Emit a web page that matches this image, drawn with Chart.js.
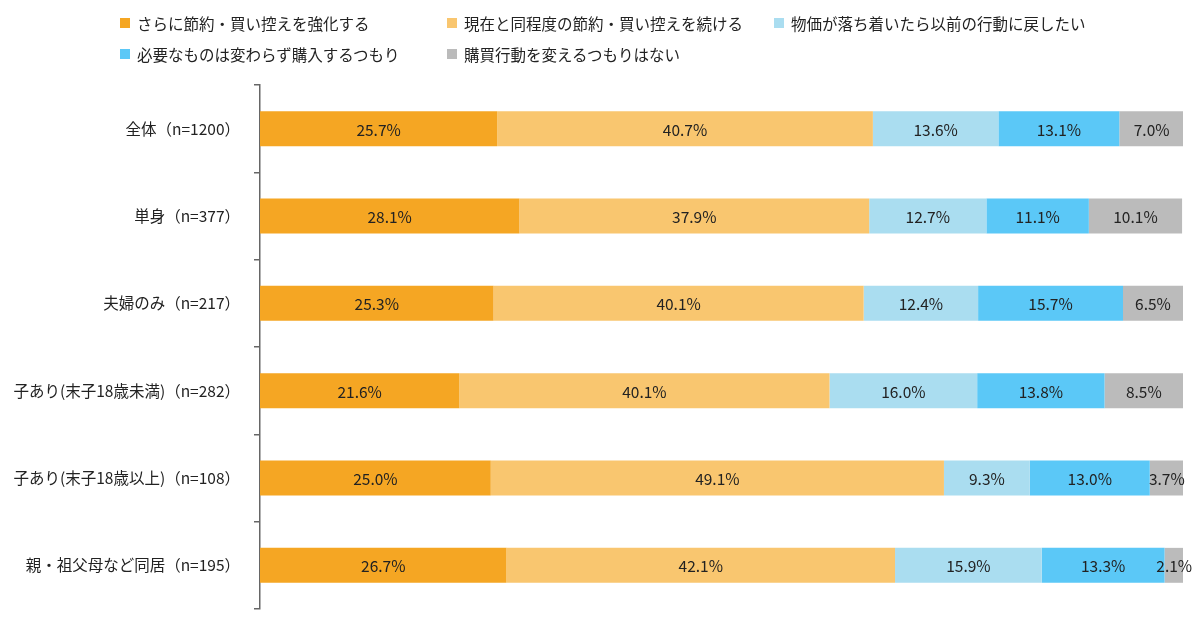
<!DOCTYPE html>
<html>
<head>
<meta charset="utf-8">
<script src="https://cdn.jsdelivr.net/npm/chart.js@4"></script>
<style>
    body { margin: 0; background: #fff; font-family: "Noto Sans CJK JP", "Noto Sans", sans-serif; }
    #wrap { position: relative; width: 1200px; height: 626px; }
    #legend { position: absolute; left: 120px; top: 12px; display: grid; grid-template-columns: 327px 327px auto; row-gap: 9px; font-size: 15.5px; color: #222; }
    .item { display: flex; align-items: center; height: 22px; white-space: nowrap; }
    .box { width: 10px; height: 10px; margin-right: 7px; flex: none; }
    canvas { display: block; }
</style>
</head>
<body>
<div id="wrap">
    <div id="legend"></div>
    <canvas id="myChart" width="1200" height="626"></canvas>
</div>
<script>
const categorias = ['全体（n=1200）', '単身（n=377）', '夫婦のみ（n=217）', '子あり(末子18歳未満)（n=282）', '子あり(末子18歳以上)（n=108）', '親・祖父母など同居（n=195）'];
const series = ['さらに節約・買い控えを強化する', '現在と同程度の節約・買い控えを続ける', '物価が落ち着いたら以前の行動に戻したい', '必要なものは変わらず購入するつもり', '購買行動を変えるつもりはない'];
const reforzar = [25.7, 28.1, 25.3, 21.6, 25.0, 26.7];
const continuar = [40.7, 37.9, 40.1, 40.1, 49.1, 42.1];
const volver = [13.6, 12.7, 12.4, 16.0, 9.3, 15.9];
const comprar = [13.1, 11.1, 15.7, 13.8, 13.0, 13.3];
const sinCambio = [7.0, 10.1, 6.5, 8.5, 3.7, 2.1];
const colores = ['#F5A623', '#F9C66F', '#AADDF0', '#5BC8F7', '#BBBBBB'];

const valores = [reforzar, continuar, volver, comprar, sinCambio];

// Leyenda en HTML (columnas fijas como en el original)
const legend = document.getElementById('legend');
series.forEach((nombre, i) => {
    const item = document.createElement('div');
    item.className = 'item';
    item.innerHTML = '<span class="box" style="background:' + colores[i] + '"></span>' + nombre;
    legend.appendChild(item);
});

// Etiquetas de porcentaje dentro de cada segmento
const etiquetas = {
    id: 'etiquetas',
    afterDatasetsDraw(chart) {
        const ctx = chart.ctx;
        ctx.save();
        ctx.font = '15.5px "Noto Sans CJK JP", "Noto Sans", sans-serif';
        ctx.fillStyle = '#222';
        ctx.textAlign = 'center';
        ctx.textBaseline = 'middle';
        chart.data.datasets.forEach((ds, i) => {
            chart.getDatasetMeta(i).data.forEach((bar, j) => {
                ctx.fillText(ds.data[j].toFixed(1) + '%', (bar.x + bar.base) / 2, bar.y + 1);
            });
        });
        ctx.restore();
    }
};

const ctx = document.getElementById('myChart').getContext('2d');
new Chart(ctx, {
    type: 'bar',
    data: {
        labels: categorias,
        datasets: series.map((nombre, i) => ({
            label: nombre,
            data: valores[i],
            backgroundColor: colores[i],
            borderWidth: 0,
            categoryPercentage: 1,
            barPercentage: 0.4
        }))
    },
    options: {
        indexAxis: 'y',
        responsive: false,
        animation: false,
        layout: { padding: { top: 85, bottom: 17, right: 17, left: 0 } },
        plugins: {
            legend: { display: false },
            tooltip: { enabled: false }
        },
        scales: {
            x: {
                stacked: true,
                min: 0,
                max: 100,
                display: false
            },
            y: {
                stacked: true,
                afterFit: (scale) => {
                    scale.width = 260;
                    scale.paddingTop = 0;
                    scale.paddingBottom = 0;
                },
                border: { display: true, color: '#666', width: 1.5 },
                grid: { drawOnChartArea: false, offset: true, tickLength: 6, color: '#666', lineWidth: 1.5 },
                ticks: {
                    padding: 14,
                    color: '#222',
                    font: { family: '"Noto Sans CJK JP", "Noto Sans", sans-serif', size: 15.5 }
                }
            }
        }
    },
    plugins: [etiquetas]
});
</script>
</body>
</html>
